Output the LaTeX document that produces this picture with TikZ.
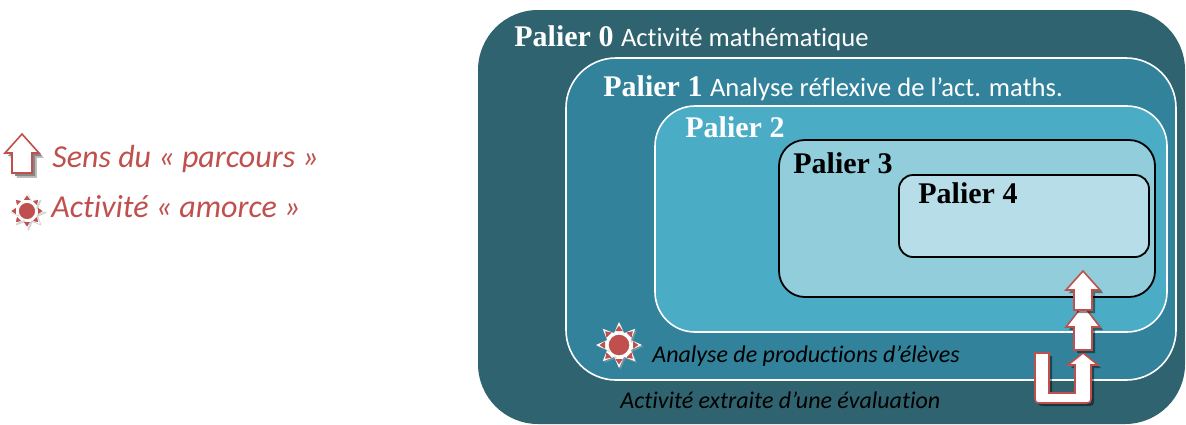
\documentclass[tikz,border=0pt]{standalone}
\usepackage{fontspec}
\setmainfont[Ligatures={NoCommon}]{Carlito}
\newfontfamily\palierfont{Liberation Serif}
\usetikzlibrary{shadows}

\definecolor{palier0}{HTML}{2F6370}
\definecolor{palier1}{HTML}{31829A}
\definecolor{palier2}{HTML}{4BACC6}
\definecolor{palier3}{HTML}{92CDDC}
\definecolor{palier4}{HTML}{B7DEE8}
\definecolor{rouge}{HTML}{C0504D}

\tikzset{
    titre/.style={anchor=base west, inner sep=0pt, font=\palierfont\bfseries\fontsize{15}{18}\selectfont},
    texte/.style={anchor=base west, inner sep=0pt, font=\itshape\fontsize{12}{14}\selectfont},
    legende/.style={anchor=base west, inner sep=0pt, text=rouge, font=\itshape\fontsize{16}{19}\selectfont},
    fleche/.style={fill=white, draw=rouge, line width=0.8pt,
        drop shadow={shadow xshift=1.5pt, shadow yshift=-1.5pt, opacity=0.45, fill=black}},
    soleil/.pic={
        \foreach \a in {0,45,...,315}{
            \fill[white, drop shadow={shadow xshift=0.8pt, shadow yshift=-0.8pt, fill=gray!70}]
                (\a:23) -- (\a+27:12) -- (\a-27:12) -- cycle;
            \fill[rouge] (\a:19.5) -- (\a+15:14.5) -- (\a-15:14.5) -- cycle;
        }
        \fill[rouge, draw=white, line width=0.6pt] (0,0) circle (11);
    }
}

\begin{document}
\begin{tikzpicture}[x=0.5pt, y=-0.5pt]
    \useasboundingbox (0,0) rectangle (1186,424);

    % legende
    \draw[fleche, drop shadow={fill=gray, opacity=0.5}] (22,134) -- (39,153) -- (32,153) -- (32,173)
        -- (12,173) -- (12,153) -- (5,153) -- cycle;
    \node[legende] (sens) at (52,167) {Sens du «~parcours~»};
    \pic[scale=0.8] (amorce) at (27,211) {soleil};
    \node[legende] (activite) at (51,217) {Activité «~amorce~»};

    % paliers emboites
    \fill[palier0, rounded corners=30pt] (478,10) rectangle (1185,424);
    \draw[white, fill=palier1, line width=0.8pt, rounded corners=25pt] (566,58) rectangle (1176,380);
    \draw[white, fill=palier2, line width=0.8pt, rounded corners=20pt] (655,106) rectangle (1167,332);
    \draw[black, fill=palier3, line width=0.9pt, rounded corners=13pt] (779,140) rectangle (1155,297);
    \draw[black, fill=palier4, line width=0.9pt, rounded corners=7pt] (899,175) rectangle (1149,257);

    \node[titre, text=white] (p0) at (514,46) {Palier 0 {\normalfont\fontsize{13.3}{16}\selectfont Activité mathématique}};
    \node[titre, text=white] (p1) at (603,96) {Palier 1 {\normalfont\fontsize{13.3}{16}\selectfont Analyse réflexive de l’act. maths.}};
    \node[titre, text=white] (p2) at (685,137) {Palier 2};
    \node[titre] (p3) at (793,173) {Palier 3};
    \node[titre] (p4) at (918,203) {Palier 4};

    \pic (amorcebis) at (619,345) {soleil};
    \node[texte] (prod) at (652,362) {Analyse de productions d’élèves};
    \node[texte] (eval) at (620,408) {Activité extraite d’une évaluation};

    % sens du parcours
    \draw[fleche] (1083,353) -- (1098,365) -- (1091,365) -- (1091,395) .. controls (1091,403) .. (1083,403)
        -- (1043,403) .. controls (1035,403) .. (1035,395) -- (1035,353) -- (1049,353) -- (1049,393)
        -- (1075,393) -- (1075,365) -- (1068,365) -- cycle;
    \draw[fleche] (1083,305) -- (1100,327) -- (1092,327) -- (1092,350) -- (1074,350) -- (1074,327) -- (1066,327) -- cycle;
    \draw[fleche] (1083,271) -- (1100,290) -- (1092,290) -- (1092,310) -- (1074,310) -- (1074,290) -- (1066,290) -- cycle;
\end{tikzpicture}
\end{document}
